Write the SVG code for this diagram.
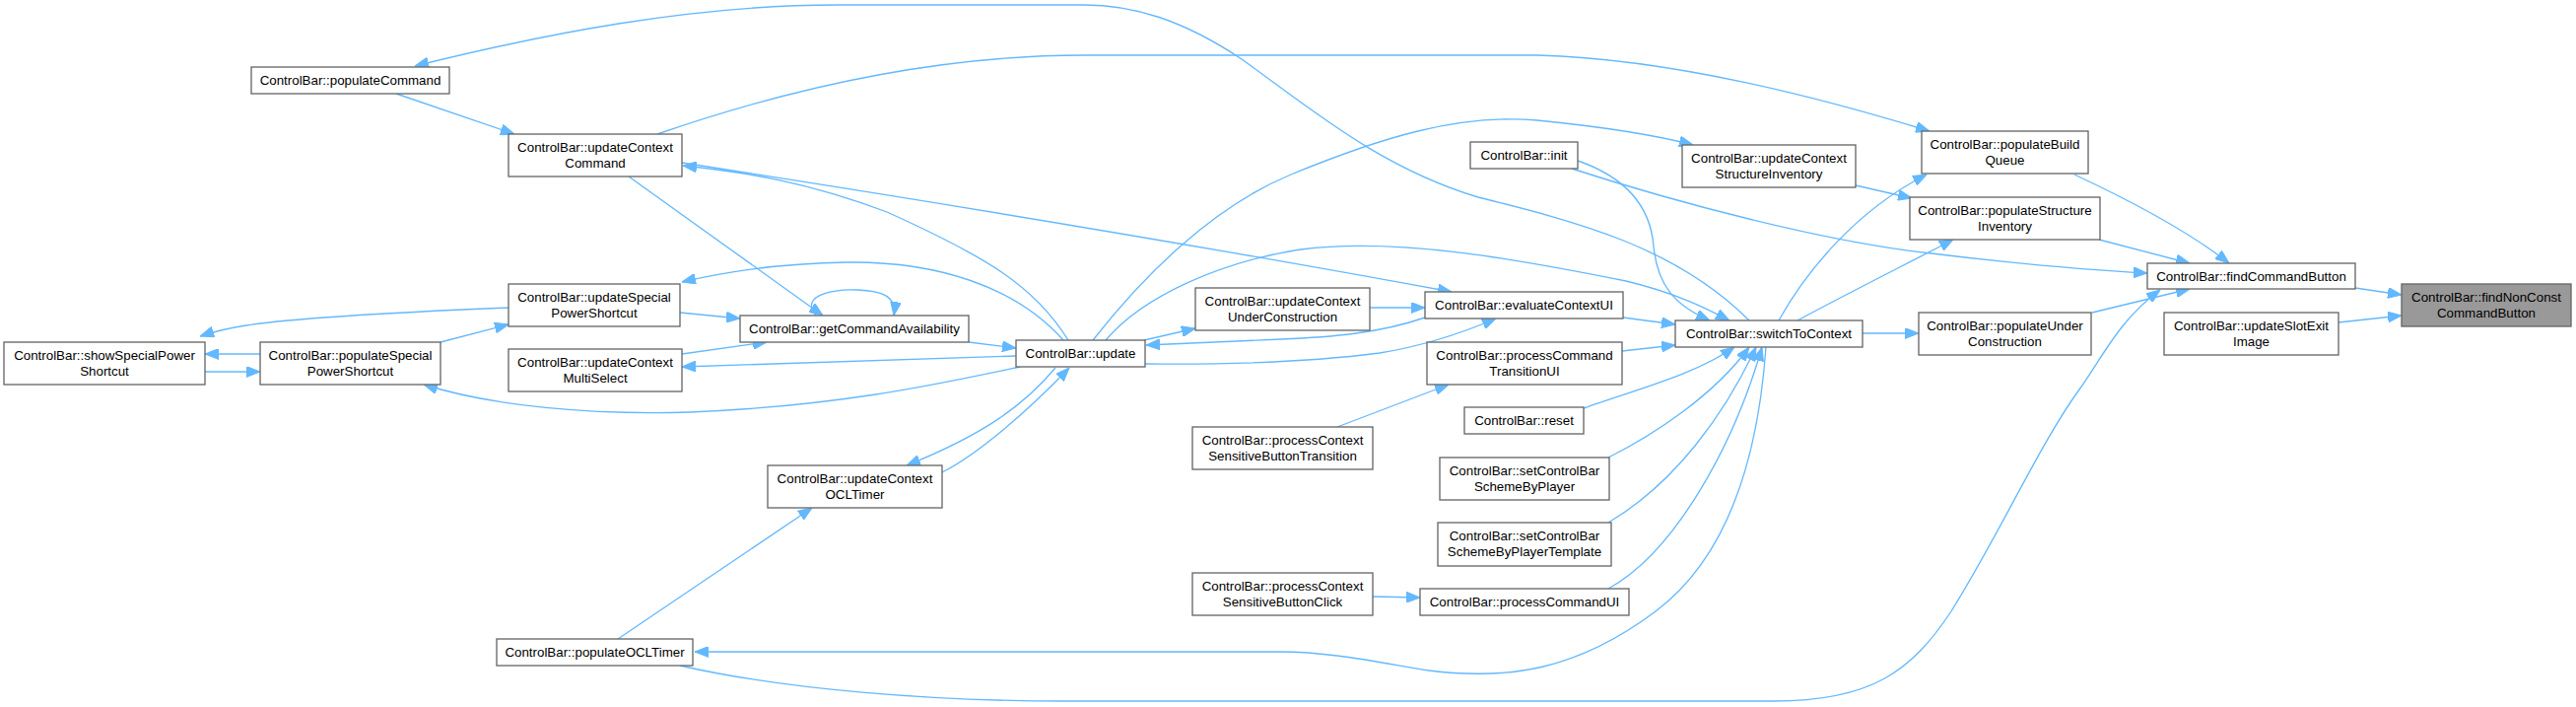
<svg xmlns="http://www.w3.org/2000/svg" width="2614" height="717" viewBox="0 0 2614 717">
<style>
.node rect{fill:#ffffff;stroke:#666666;stroke-width:1.33}
.node.main rect{fill:#999999}
text{font-family:"Liberation Sans",Arial,Helvetica,sans-serif;font-size:13.33px;text-anchor:middle;fill:#000000}
.edges path{fill:none;stroke:#63b8ff;stroke-width:1.33;marker-end:url(#arr)}
</style>
<defs>
<marker id="arr" markerUnits="userSpaceOnUse" markerWidth="14" markerHeight="11" viewBox="0 0 14 11" refX="14" refY="5.5" orient="auto">
<path d="M0,0 L14,5.5 L0,11 z" fill="#63b8ff" stroke="#63b8ff" stroke-width="1"/>
</marker>
</defs>
<rect width="2614" height="717" fill="#ffffff"/>
<g class="edges" id="edges">
<path d="M2390,292 L2437,299"/>
<path d="M2373,327 L2437,320"/>
<path d="M2105,177 C2150,198 2215,230 2262,267"/>
<path d="M2130,243 L2222,267"/>
<path d="M1595,171 C1700,205 1850,245 1960,257 C2050,268 2120,274 2179,277"/>
<path d="M2123,317 L2222,293"/>
<path d="M690,675 C800,700 950,711 1080,711 L1800,711 C1900,711 1940,680 1980,620 C2030,540 2070,450 2110,395 C2135,360 2150,325 2192,294"/>
<path d="M1805,325 C1830,280 1880,215 1955,177"/>
<path d="M667,136 C800,90 950,56 1100,56 L1560,56 C1700,60 1850,100 1958,133"/>
<path d="M1883,188 L1940,201"/>
<path d="M1824,325 C1870,300 1940,265 1982,243"/>
<path d="M1890,338 L1947,338"/>
<path d="M1775,325 C1700,250 1600,225 1500,200 C1400,170 1330,110 1260,60 C1200,20 1150,5 1100,5 L850,5 C700,5 550,35 421,67"/>
<path d="M402,95 L522,136"/>
<path d="M638,179 L835,320"/>
<path d="M1084,345 C1050,290 1000,260 900,215 C820,185 760,175 693,168"/>
<path d="M692,165 C950,205 1250,255 1473,296"/>
<path d="M1079,345 C1030,290 950,265 860,266 C790,267 730,277 692,286"/>
<path d="M1109,345 C1160,280 1230,210 1310,177 C1400,140 1480,115 1560,122 C1620,128 1680,137 1718,147"/>
<path d="M1122,345 C1160,300 1240,265 1320,253 C1420,240 1550,265 1650,285 C1700,297 1730,312 1755,325"/>
<path d="M1601,163 C1650,180 1675,210 1678,250 C1682,290 1700,310 1735,325"/>
<path d="M1390,312 L1446,312"/>
<path d="M1446,322 C1400,338 1350,342 1300,344 C1250,346 1200,348 1163,350"/>
<path d="M1161,345 L1213,333"/>
<path d="M1162,369 C1250,370 1330,367 1400,358 C1450,350 1490,335 1518,323"/>
<path d="M1647,322 L1700,329"/>
<path d="M1646,356 L1700,350"/>
<path d="M1607,414 C1660,395 1720,380 1760,352"/>
<path d="M1632,464 C1680,440 1740,400 1775,352"/>
<path d="M1632,530 C1700,490 1750,420 1782,352"/>
<path d="M1632,597 C1700,560 1760,450 1788,352"/>
<path d="M1792,352 C1785,450 1760,560 1680,620 C1600,680 1530,690 1450,680 C1400,672 1350,661 1300,661 L705,661"/>
<path d="M1357,433 L1470,390"/>
<path d="M1393,605 L1441,606"/>
<path d="M983,347 L1031,353"/>
<path d="M1031,361 L692,372"/>
<path d="M1035,372 C950,390 850,412 700,418 C600,421 500,412 430,390"/>
<path d="M690,317 L751,323"/>
<path d="M692,359 L778,347"/>
<path d="M828,320 C810,298 850,293 870,294 C895,295 910,300 907,320"/>
<path d="M516,312 C420,316 300,322 250,330 C230,333 215,337 203,341"/>
<path d="M447,347 L516,329"/>
<path d="M264,359 L208,359"/>
<path d="M208,377 L264,377"/>
<path d="M1071,373 C1040,410 1000,440 920,472"/>
<path d="M956,479 C990,462 1040,420 1085,373"/>
<path d="M627,648 L824,515"/>
</g>
<g class="node main" id="findNonConstCommandButton"><rect x="2437" y="288" width="172" height="43"/><text x="2523" y="306">ControlBar::findNonConst</text><text x="2523" y="322">CommandButton</text></g>
<g class="node" id="findCommandButton"><rect x="2179" y="267" width="211" height="26"/><text x="2284.5" y="284.5">ControlBar::findCommandButton</text></g>
<g class="node" id="updateSlotExitImage"><rect x="2196" y="317" width="177" height="43"/><text x="2284.5" y="335">ControlBar::updateSlotExit</text><text x="2284.5" y="351">Image</text></g>
<g class="node" id="populateBuildQueue"><rect x="1950" y="133" width="169" height="43"/><text x="2034.5" y="151">ControlBar::populateBuild</text><text x="2034.5" y="167">Queue</text></g>
<g class="node" id="populateStructureInventory"><rect x="1938" y="200" width="193" height="43"/><text x="2034.5" y="218">ControlBar::populateStructure</text><text x="2034.5" y="234">Inventory</text></g>
<g class="node" id="populateUnderConstruction"><rect x="1947" y="317" width="175" height="43"/><text x="2034.5" y="335">ControlBar::populateUnder</text><text x="2034.5" y="351">Construction</text></g>
<g class="node" id="init"><rect x="1492" y="144" width="109" height="27"/><text x="1546.5" y="162">ControlBar::init</text></g>
<g class="node" id="updateContextStructureInventory"><rect x="1707" y="147" width="176" height="43"/><text x="1795" y="165">ControlBar::updateContext</text><text x="1795" y="181">StructureInventory</text></g>
<g class="node" id="switchToContext"><rect x="1700" y="325" width="190" height="27"/><text x="1795" y="343">ControlBar::switchToContext</text></g>
<g class="node" id="evaluateContextUI"><rect x="1446" y="296" width="201" height="27"/><text x="1546.5" y="314">ControlBar::evaluateContextUI</text></g>
<g class="node" id="processCommandTransitionUI"><rect x="1448" y="347" width="198" height="43"/><text x="1547" y="365">ControlBar::processCommand</text><text x="1547" y="381">TransitionUI</text></g>
<g class="node" id="reset"><rect x="1486" y="413" width="121" height="27"/><text x="1546.5" y="431">ControlBar::reset</text></g>
<g class="node" id="setControlBarSchemeByPlayer"><rect x="1461" y="464" width="172" height="43"/><text x="1547" y="482">ControlBar::setControlBar</text><text x="1547" y="498">SchemeByPlayer</text></g>
<g class="node" id="setControlBarSchemeByPlayerTemplate"><rect x="1459" y="530" width="176" height="44"/><text x="1547" y="548">ControlBar::setControlBar</text><text x="1547" y="564">SchemeByPlayerTemplate</text></g>
<g class="node" id="processCommandUI"><rect x="1441" y="597" width="212" height="27"/><text x="1547" y="615">ControlBar::processCommandUI</text></g>
<g class="node" id="updateContextUnderConstruction"><rect x="1213" y="292" width="177" height="43"/><text x="1301.5" y="310">ControlBar::updateContext</text><text x="1301.5" y="326">UnderConstruction</text></g>
<g class="node" id="processContextSensitiveButtonTransition"><rect x="1210" y="433" width="183" height="43"/><text x="1301.5" y="451">ControlBar::processContext</text><text x="1301.5" y="467">SensitiveButtonTransition</text></g>
<g class="node" id="processContextSensitiveButtonClick"><rect x="1210" y="581" width="183" height="43"/><text x="1301.5" y="599">ControlBar::processContext</text><text x="1301.5" y="615">SensitiveButtonClick</text></g>
<g class="node" id="update"><rect x="1031" y="345" width="131" height="27"/><text x="1096.5" y="363">ControlBar::update</text></g>
<g class="node" id="getCommandAvailability"><rect x="751" y="320" width="232" height="27"/><text x="867" y="338">ControlBar::getCommandAvailability</text></g>
<g class="node" id="updateContextOCLTimer"><rect x="779" y="472" width="177" height="43"/><text x="867.5" y="490">ControlBar::updateContext</text><text x="867.5" y="506">OCLTimer</text></g>
<g class="node" id="updateContextCommand"><rect x="516" y="136" width="176" height="43"/><text x="604" y="154">ControlBar::updateContext</text><text x="604" y="170">Command</text></g>
<g class="node" id="updateSpecialPowerShortcut"><rect x="516" y="288" width="174" height="43"/><text x="603" y="306">ControlBar::updateSpecial</text><text x="603" y="322">PowerShortcut</text></g>
<g class="node" id="updateContextMultiSelect"><rect x="516" y="354" width="176" height="43"/><text x="604" y="372">ControlBar::updateContext</text><text x="604" y="388">MultiSelect</text></g>
<g class="node" id="populateOCLTimer"><rect x="504" y="648" width="199" height="27"/><text x="603.5" y="666">ControlBar::populateOCLTimer</text></g>
<g class="node" id="populateCommand"><rect x="255" y="68" width="201" height="27"/><text x="355.5" y="86">ControlBar::populateCommand</text></g>
<g class="node" id="showSpecialPowerShortcut"><rect x="4" y="347" width="204" height="43"/><text x="106" y="365">ControlBar::showSpecialPower</text><text x="106" y="381">Shortcut</text></g>
<g class="node" id="populateSpecialPowerShortcut"><rect x="264" y="347" width="183" height="43"/><text x="355.5" y="365">ControlBar::populateSpecial</text><text x="355.5" y="381">PowerShortcut</text></g>
</svg>
